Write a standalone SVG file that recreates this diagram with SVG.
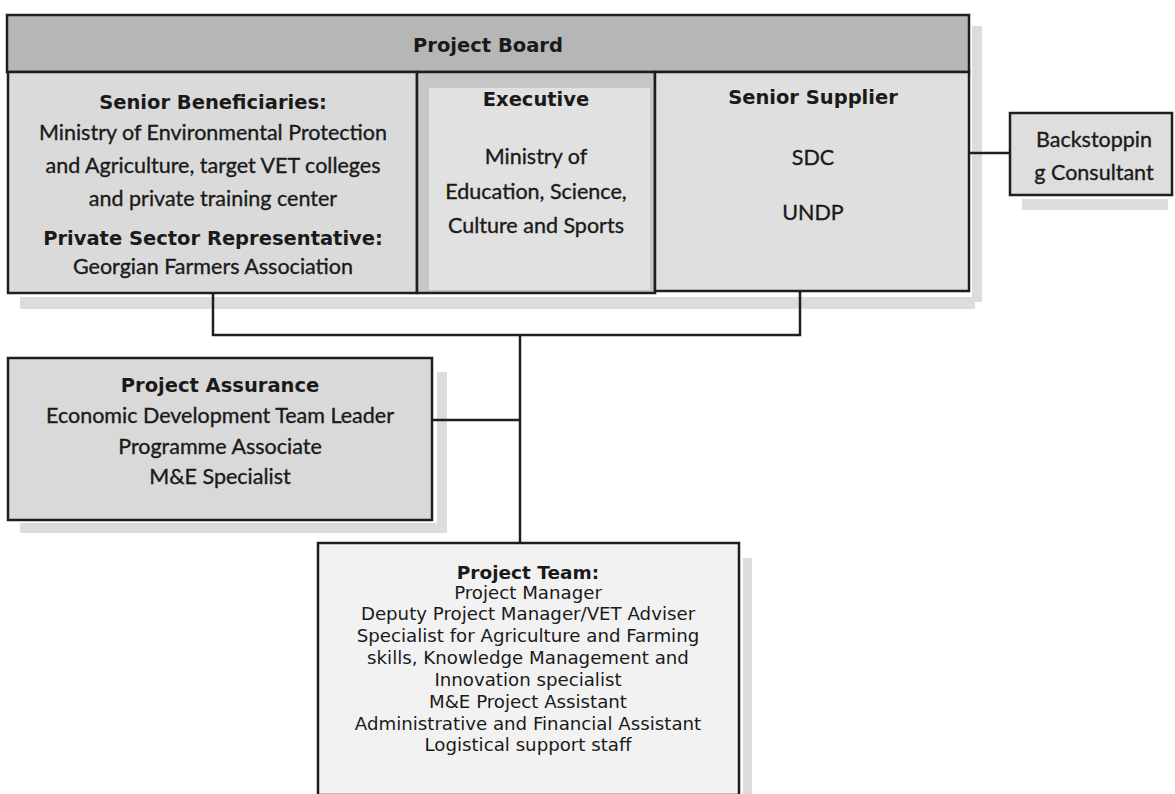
<svg xmlns="http://www.w3.org/2000/svg" width="1175" height="794" viewBox="0 0 1175 794">
  <style>
    .box { stroke: #1e1e1e; stroke-width: 2.5; }
    .shadow { fill: #dcdcdc; }
    .conn { stroke: #1e1e1e; stroke-width: 2.5; fill: none; }
    .hd { font-family: "DejaVu Sans", "Liberation Sans", sans-serif; font-weight: bold; font-size: 19.5px; fill: #1a1a1a; text-anchor: middle; }
    .tx { font-family: Lato, "Open Sans", sans-serif; font-size: 21.5px; fill: #1a1a1a; stroke: #1a1a1a; stroke-width: 0.35; text-anchor: middle; }
    .tm { font-family: "DejaVu Sans", "Liberation Sans", sans-serif; font-size: 18.2px; fill: #1a1a1a; text-anchor: middle; }
    .tmb { font-family: "DejaVu Sans", "Liberation Sans", sans-serif; font-weight: bold; font-size: 18.5px; fill: #1a1a1a; text-anchor: middle; }
  </style>
  <rect width="1175" height="794" fill="#ffffff"/>

  <g id="shadows">
    <rect class="shadow" x="972" y="26" width="10" height="276"/>
    <rect class="shadow" x="20" y="297" width="955" height="12"/>
    <rect class="shadow" x="1022" y="199" width="146" height="11"/>
    <rect class="shadow" x="437" y="372" width="10" height="161"/>
    <rect class="shadow" x="20" y="523" width="427" height="10"/>
    <rect class="shadow" x="743" y="558" width="9" height="236"/>
  </g>

  <g id="connectors">
    <polyline class="conn" points="213,292 213,335 800,335 800,291"/>
    <line class="conn" x1="520" y1="335" x2="520" y2="543"/>
    <line class="conn" x1="432" y1="420" x2="520" y2="420"/>
    <line class="conn" x1="969" y1="153" x2="1010" y2="153"/>
  </g>

  <g id="project-board">
    <rect class="box" x="7" y="15" width="962" height="57" fill="#b6b6b6"/>
    <text class="hd" x="488" y="52">Project Board</text>
  </g>

  <g id="senior-beneficiaries">
    <rect class="box" x="8" y="72" width="409" height="221" fill="#dadada"/>
    <text class="hd" x="213" y="109">Senior Beneficiaries:</text>
    <text class="tx" x="213" y="140">Ministry of Environmental Protection</text>
    <text class="tx" x="213" y="173">and Agriculture, target VET colleges</text>
    <text class="tx" x="213" y="206">and private training center</text>
    <text class="hd" x="213" y="245">Private Sector Representative:</text>
    <text class="tx" x="213" y="274">Georgian Farmers Association</text>
  </g>

  <g id="executive">
    <rect class="box" x="417" y="72" width="238" height="221" fill="#c6c6c6"/>
    <rect x="429" y="88" width="221" height="202" fill="#e1e1e1"/>
    <text class="hd" x="536" y="106">Executive</text>
    <text class="tx" x="536" y="164">Ministry of</text>
    <text class="tx" x="536" y="199">Education, Science,</text>
    <text class="tx" x="536" y="233">Culture and Sports</text>
  </g>

  <g id="senior-supplier">
    <rect class="box" x="655" y="72" width="314" height="219" fill="#dfdfdf"/>
    <text class="hd" x="813" y="104">Senior Supplier</text>
    <text class="tx" x="813" y="165">SDC</text>
    <text class="tx" x="813" y="220">UNDP</text>
  </g>

  <g id="backstopping">
    <rect class="box" x="1010" y="113" width="162" height="82" fill="#dedede"/>
    <text class="tx" x="1094" y="147">Backstoppin</text>
    <text class="tx" x="1094" y="180">g Consultant</text>
  </g>

  <g id="project-assurance">
    <rect class="box" x="8" y="358" width="424" height="162" fill="#d9d9d9"/>
    <text class="hd" x="220" y="392">Project Assurance</text>
    <text class="tx" x="220" y="423">Economic Development Team Leader</text>
    <text class="tx" x="220" y="454">Programme Associate</text>
    <text class="tx" x="220" y="484">M&amp;E Specialist</text>
  </g>

  <g id="project-team">
    <rect class="box" x="318" y="543" width="421" height="252" fill="#f2f2f2"/>
    <text class="tmb" x="528" y="579">Project Team:</text>
    <text class="tm" x="528" y="599">Project Manager</text>
    <text class="tm" x="528" y="620">Deputy Project Manager/VET Adviser</text>
    <text class="tm" x="528" y="642">Specialist for Agriculture and Farming</text>
    <text class="tm" x="528" y="664">skills, Knowledge Management and</text>
    <text class="tm" x="528" y="686">Innovation specialist</text>
    <text class="tm" x="528" y="708">M&amp;E Project Assistant</text>
    <text class="tm" x="528" y="730">Administrative and Financial Assistant</text>
    <text class="tm" x="528" y="751">Logistical support staff</text>
  </g>
</svg>
